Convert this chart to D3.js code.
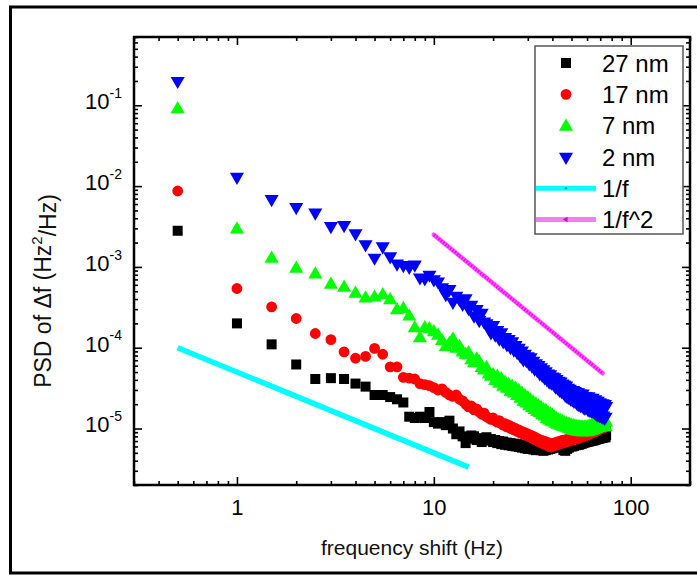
<!DOCTYPE html>
<html>
<head>
<meta charset="utf-8">
<script src="https://cdn.jsdelivr.net/npm/d3@7/dist/d3.min.js"></script>
<style>
  html, body { margin: 0; padding: 0; background: #fff; }
  svg { display: block; font-family: "Liberation Sans", Arial, sans-serif; }
</style>
</head>
<body>
<svg id="chart" width="697" height="576"></svg>
<script>
// Frequency grid (Hz)
const frequency = [
  0.5, 1, 1.5, 2, 2.5, 3, 3.5, 4, 4.5, 5,
  5.5, 6, 6.5, 7, 7.5, 8, 8.5, 9, 9.5, 10,
  10.5, 11, 11.5, 12, 12.5, 13, 13.5, 14, 14.5, 15,
  15.5, 16, 16.5, 17, 17.5, 18, 18.5, 19, 19.5, 20,
  20.5, 21, 21.5, 22, 22.5, 23, 23.5, 24, 24.5, 25,
  25.5, 26, 26.5, 27, 27.5, 28, 28.5, 29, 29.5, 30,
  30.5, 31, 31.5, 32, 32.5, 33, 33.5, 34, 34.5, 35,
  35.5, 36, 36.5, 37, 37.5, 38, 38.5, 39, 39.5, 40,
  40.5, 41, 41.5, 42, 42.5, 43, 43.5, 44, 44.5, 45,
  45.5, 46, 46.5, 47, 47.5, 48, 48.5, 49, 49.5, 50,
  50.5, 51, 51.5, 52, 52.5, 53, 53.5, 54, 54.5, 55,
  55.5, 56, 56.5, 57, 57.5, 58, 58.5, 59, 59.5, 60,
  60.5, 61, 61.5, 62, 62.5, 63, 63.5, 64, 64.5, 65,
  65.5, 66, 66.5, 67, 67.5, 68, 68.5, 69, 69.5, 70,
  70.5, 71, 71.5, 72, 72.5, 73, 73.5, 74, 74.5, 75
];

// PSD of the frequency shift, Hz^2/Hz, one array per tip-sample distance
const psd27nm = [
  2.8e-3, 2.0e-4, 1.1e-4, 6.2e-5, 4.1e-5, 4.2e-5, 4.1e-5, 3.6e-5, 3.3e-5, 2.6e-5,
  2.6e-5, 2.45e-5, 2.3e-5, 2.1e-5, 1.4e-5, 1.35e-5, 1.4e-5, 1.35e-5, 1.6e-5, 1.2e-5,
  1.15e-5, 1.2e-5, 1.1e-5, 1.25e-5, 1.0e-5, 8.5e-6, 9.2e-6, 8.0e-6, 6.6e-6, 7.5e-6,
  8.2e-6, 8.0e-6, 7.2e-6, 7.6e-6, 6.8e-6, 7.3e-6, 7.8e-6, 7.1e-6, 7.4e-6, 6.8e-6,
  7.2e-6, 6.6e-6, 7.0e-6, 6.4e-6, 6.9e-6, 6.3e-6, 6.7e-6, 6.2e-6, 6.6e-6, 6.1e-6,
  6.5e-6, 6.0e-6, 6.4e-6, 5.9e-6, 6.3e-6, 5.8e-6, 6.2e-6, 5.7e-6, 6.1e-6, 5.6e-6,
  6.0e-6, 5.6e-6, 6.1e-6, 5.5e-6, 6.0e-6, 5.4e-6, 5.9e-6, 5.5e-6, 6.0e-6, 5.4e-6,
  5.9e-6, 5.3e-6, 5.8e-6, 5.4e-6, 6.0e-6, 5.5e-6, 6.1e-6, 5.6e-6, 6.2e-6, 5.7e-6,
  6.3e-6, 5.8e-6, 6.4e-6, 5.9e-6, 6.5e-6, 6.0e-6, 6.6e-6, 6.1e-6, 6.7e-6, 6.2e-6,
  5.4e-6, 6.3e-6, 5.3e-6, 6.4e-6, 5.6e-6, 6.5e-6, 5.8e-6, 6.6e-6, 6.0e-6, 6.7e-6,
  6.0e-6, 6.8e-6, 6.1e-6, 6.9e-6, 6.2e-6, 7.0e-6, 6.3e-6, 7.0e-6, 6.3e-6, 7.1e-6,
  6.4e-6, 7.2e-6, 6.5e-6, 7.3e-6, 6.6e-6, 7.3e-6, 6.7e-6, 7.4e-6, 6.8e-6, 7.4e-6,
  6.9e-6, 7.5e-6, 6.9e-6, 7.6e-6, 7.0e-6, 7.6e-6, 7.1e-6, 7.7e-6, 7.1e-6, 7.8e-6,
  7.2e-6, 7.9e-6, 7.3e-6, 8.0e-6, 7.4e-6, 8.0e-6, 7.5e-6, 8.1e-6, 7.5e-6, 8.2e-6,
  7.6e-6, 8.2e-6, 7.7e-6, 8.3e-6, 7.7e-6, 8.3e-6, 7.8e-6, 8.4e-6, 7.8e-6, 8.3e-6
];
const psd17nm = [
  8.7e-3, 5.4e-4, 3.2e-4, 2.3e-4, 1.5e-4, 1.26e-4, 8.9e-5, 7.4e-5, 7.8e-5, 9.8e-5,
  8.3e-5, 5.8e-5, 5.8e-5, 4.3e-5, 4.2e-5, 4.1e-5, 3.6e-5, 3.5e-5, 3.4e-5, 3.2e-5,
  3.0e-5, 3.1e-5, 2.8e-5, 2.6e-5, 2.5e-5, 2.6e-5, 2.3e-5, 2.2e-5, 2.0e-5, 1.85e-5,
  1.9e-5, 1.7e-5, 1.75e-5, 1.6e-5, 1.5e-5, 1.55e-5, 1.4e-5, 1.35e-5, 1.3e-5, 1.35e-5,
  1.25e-5, 1.2e-5, 1.25e-5, 1.15e-5, 1.1e-5, 1.15e-5, 1.05e-5, 1.1e-5, 1.0e-5, 1.05e-5,
  9.6e-6, 1.0e-5, 9.2e-6, 9.6e-6, 8.8e-6, 9.2e-6, 8.5e-6, 8.9e-6, 8.2e-6, 8.6e-6,
  7.9e-6, 8.3e-6, 7.6e-6, 8.0e-6, 7.3e-6, 7.7e-6, 7.1e-6, 7.4e-6, 6.8e-6, 7.2e-6,
  6.6e-6, 7.0e-6, 6.4e-6, 6.9e-6, 6.2e-6, 6.7e-6, 6.0e-6, 6.6e-6, 5.9e-6, 6.5e-6,
  6.1e-6, 6.6e-6, 6.2e-6, 6.8e-6, 6.3e-6, 6.9e-6, 6.5e-6, 7.0e-6, 6.6e-6, 7.1e-6,
  6.7e-6, 7.2e-6, 6.8e-6, 7.3e-6, 6.9e-6, 7.4e-6, 7.0e-6, 7.5e-6, 7.1e-6, 7.6e-6,
  7.2e-6, 7.8e-6, 7.3e-6, 7.9e-6, 7.4e-6, 8.0e-6, 7.5e-6, 8.1e-6, 7.6e-6, 8.2e-6,
  7.8e-6, 8.4e-6, 7.9e-6, 8.5e-6, 8.0e-6, 8.6e-6, 8.1e-6, 8.8e-6, 8.3e-6, 8.9e-6,
  8.4e-6, 9.0e-6, 8.5e-6, 9.2e-6, 8.7e-6, 9.3e-6, 8.8e-6, 9.5e-6, 9.0e-6, 9.6e-6,
  9.1e-6, 9.8e-6, 9.2e-6, 1.0e-5, 9.4e-6, 1.02e-5, 9.6e-6, 1.04e-5, 9.8e-6, 1.06e-5,
  1.0e-5, 1.08e-5, 1.0e-5, 1.1e-5, 1.02e-5, 1.1e-5, 1.04e-5, 1.12e-5, 1.05e-5, 1.1e-5
];
const psd7nm = [
  9.2e-2, 3.0e-3, 1.3e-3, 9.8e-4, 8.3e-4, 6.2e-4, 5.7e-4, 4.8e-4, 4.2e-4, 4.3e-4,
  4.6e-4, 4.0e-4, 3.0e-4, 3.1e-4, 2.5e-4, 1.8e-4, 1.35e-4, 1.8e-4, 1.75e-4, 1.6e-4,
  1.45e-4, 1.25e-4, 1.05e-4, 1.15e-4, 1.3e-4, 1.0e-4, 1.05e-4, 9.0e-5, 8.4e-5, 8.8e-5,
  7.2e-5, 6.6e-5, 7.4e-5, 6.8e-5, 5.8e-5, 5.4e-5, 5.8e-5, 4.8e-5, 4.5e-5, 4.7e-5,
  4.0e-5, 4.5e-5, 3.7e-5, 4.2e-5, 3.4e-5, 3.8e-5, 3.2e-5, 3.6e-5, 2.9e-5, 3.4e-5,
  2.8e-5, 3.2e-5, 2.6e-5, 3.0e-5, 2.4e-5, 2.8e-5, 2.2e-5, 2.6e-5, 2.1e-5, 2.45e-5,
  1.95e-5, 2.3e-5, 1.85e-5, 2.15e-5, 1.75e-5, 2.05e-5, 1.65e-5, 1.95e-5, 1.6e-5, 1.85e-5,
  1.5e-5, 1.75e-5, 1.45e-5, 1.7e-5, 1.35e-5, 1.6e-5, 1.3e-5, 1.55e-5, 1.25e-5, 1.5e-5,
  1.22e-5, 1.4e-5, 1.18e-5, 1.35e-5, 1.15e-5, 1.3e-5, 1.12e-5, 1.28e-5, 1.1e-5, 1.24e-5,
  1.08e-5, 1.2e-5, 1.06e-5, 1.18e-5, 1.04e-5, 1.16e-5, 1.02e-5, 1.14e-5, 1.0e-5, 1.12e-5,
  9.8e-6, 1.1e-5, 9.7e-6, 1.09e-5, 9.6e-6, 1.08e-5, 9.5e-6, 1.07e-5, 9.4e-6, 1.06e-5,
  9.4e-6, 1.06e-5, 9.3e-6, 1.05e-5, 9.3e-6, 1.06e-5, 9.4e-6, 1.05e-5, 9.3e-6, 1.06e-5,
  9.4e-6, 1.07e-5, 9.5e-6, 1.09e-5, 9.6e-6, 1.1e-5, 9.7e-6, 1.12e-5, 9.9e-6, 1.14e-5,
  1.0e-5, 1.16e-5, 1.02e-5, 1.18e-5, 1.04e-5, 1.2e-5, 1.05e-5, 1.22e-5, 1.06e-5, 1.2e-5,
  1.07e-5, 1.22e-5, 1.08e-5, 1.25e-5, 1.09e-5, 1.2e-5, 1.07e-5, 1.24e-5, 1.08e-5, 1.22e-5
];
const psd2nm = [
  2.0e-1, 1.3e-2, 6.9e-3, 5.5e-3, 4.7e-3, 3.2e-3, 3.3e-3, 2.6e-3, 1.9e-3, 1.3e-3,
  1.8e-3, 1.35e-3, 1.1e-3, 1.05e-3, 1.0e-3, 1.07e-3, 7.4e-4, 7.2e-4, 8.0e-4, 7.0e-4,
  6.6e-4, 5.6e-4, 4.6e-4, 5.3e-4, 3.7e-4, 4.4e-4, 4.0e-4, 3.5e-4, 4.1e-4, 3.1e-4,
  3.4e-4, 2.5e-4, 3.0e-4, 2.2e-4, 2.7e-4, 2.1e-4, 2.0e-4, 1.75e-4, 1.55e-4, 1.9e-4,
  1.45e-4, 1.65e-4, 1.3e-4, 1.55e-4, 1.2e-4, 1.35e-4, 1.1e-4, 1.28e-4, 1.02e-4, 1.2e-4,
  9.5e-5, 1.08e-4, 8.8e-5, 1.0e-4, 8.0e-5, 9.2e-5, 7.2e-5, 8.4e-5, 7.0e-5, 7.8e-5,
  6.4e-5, 7.6e-5, 6.0e-5, 6.9e-5, 5.5e-5, 6.4e-5, 5.3e-5, 6.1e-5, 4.8e-5, 5.7e-5,
  4.6e-5, 5.4e-5, 4.3e-5, 5.1e-5, 4.1e-5, 4.8e-5, 3.8e-5, 4.7e-5, 3.7e-5, 4.4e-5,
  3.6e-5, 4.3e-5, 3.3e-5, 4.1e-5, 3.2e-5, 3.9e-5, 3.0e-5, 3.8e-5, 2.9e-5, 3.6e-5,
  2.8e-5, 3.5e-5, 2.6e-5, 3.4e-5, 2.5e-5, 3.2e-5, 2.45e-5, 3.1e-5, 2.35e-5, 3.0e-5,
  2.3e-5, 3.0e-5, 2.2e-5, 2.9e-5, 2.2e-5, 2.8e-5, 2.05e-5, 2.8e-5, 2.0e-5, 2.7e-5,
  1.95e-5, 2.6e-5, 1.95e-5, 2.7e-5, 1.85e-5, 2.5e-5, 1.8e-5, 2.5e-5, 1.85e-5, 2.4e-5,
  1.75e-5, 2.5e-5, 1.7e-5, 2.4e-5, 1.7e-5, 2.3e-5, 1.65e-5, 2.4e-5, 1.65e-5, 2.2e-5,
  1.6e-5, 2.3e-5, 1.55e-5, 2.2e-5, 1.5e-5, 2.2e-5, 1.5e-5, 2.1e-5, 1.45e-5, 2.1e-5,
  1.45e-5, 2.0e-5, 1.4e-5, 2.05e-5, 1.45e-5, 1.95e-5, 1.35e-5, 2.0e-5, 1.4e-5, 1.9e-5
];

// Guide lines: endpoints (frequency, PSD)
const guide1f = { f: [0.5, 15], p: [1e-4, 3.33e-6] };
const guide1f2 = { f: [10, 72], p: [2.5e-3, 4.82e-5] };

const seriesNames = ["27 nm", "17 nm", "7 nm", "2 nm"];
const seriesValues = [psd27nm, psd17nm, psd7nm, psd2nm];
const seriesColors = ["#000000", "#ff0000", "#00ff00", "#0000ff"];
const seriesSymbols = ["square", "circle", "triangleUp", "triangleDown"];
const guideNames = ["1/f", "1/f^2"];

const xTickValues = [1, 10, 100];
const yTickExponents = [-1, -2, -3, -4, -5];

const svg = d3.select("#chart");
const W = 697, H = 576;
const plot = { left: 134, right: 690, top: 37, bottom: 485 };
const FONT = "Liberation Sans, Arial, sans-serif";

const x = d3.scaleLog().domain([0.3, 200]).range([plot.left, plot.right]);
const y = d3.scaleLog().domain([2e-6, 0.7]).range([plot.bottom, plot.top]);

// outer border
svg.append("path")
  .attr("d", `M ${W + 5} 7 H 10.5 V 573 H ${W + 5}`)
  .attr("fill", "none").attr("stroke", "#000").attr("stroke-width", 3);

// ---- symbols
const symbolTypes = {
  square: d3.symbolSquare,
  circle: d3.symbolCircle,
  triangleUp: d3.symbolTriangle,
  triangleDown: d3.symbolTriangle
};
const symbolAreas = { square: 100, circle: 92, triangleUp: 86, triangleDown: 86 };
function symbolPath(kind) {
  return d3.symbol().type(symbolTypes[kind]).size(symbolAreas[kind])();
}
function symbolTransform(kind, tx, ty) {
  return kind === "triangleDown"
    ? `translate(${tx},${ty}) rotate(180)`
    : `translate(${tx},${ty + (kind === "triangleUp" ? 1 : 0)})`;
}

// ---- data markers, 27 nm first so the 2 nm set sits on top
const dataLayer = svg.append("g");
seriesValues.forEach((vals, si) => {
  const kind = seriesSymbols[si];
  const pts = frequency.map((f, i) => ({ f, v: vals[i] }));
  dataLayer.append("g").selectAll("path")
    .data(pts)
    .join("path")
    .attr("d", symbolPath(kind))
    .attr("transform", d => symbolTransform(kind, x(d.f), y(d.v)))
    .attr("fill", seriesColors[si]);
});

// ---- guide lines
const lineGen = d3.line().x(d => x(d[0])).y(d => y(d[1]));
svg.append("path")
  .datum(guide1f.f.map((f, i) => [f, guide1f.p[i]]))
  .attr("d", lineGen)
  .attr("stroke", "#00ffff").attr("stroke-width", 5.5).attr("fill", "none");
svg.append("path")
  .datum(guide1f2.f.map((f, i) => [f, guide1f2.p[i]]))
  .attr("d", lineGen)
  .attr("stroke", "#ff55ff").attr("stroke-width", 4.5).attr("fill", "none")
  .attr("stroke-linecap", "round");
svg.append("path")
  .datum(guide1f2.f.map((f, i) => [f, guide1f2.p[i]]))
  .attr("d", lineGen)
  .attr("stroke", "#ff00ff").attr("stroke-width", 3).attr("fill", "none")
  .attr("stroke-dasharray", "1.6 1.4");

// ---- axes (ticks pointing inward on all four sides)
const fmtNone = () => "";
const xMinor = x.ticks().filter(t => !xTickValues.includes(t));
const yMajor = yTickExponents.map(e => Math.pow(10, e));
const yMinor = y.ticks().filter(t => !yMajor.some(m => Math.abs(m - t) / m < 1e-9));

function styleAxis(g) {
  g.select(".domain").remove();
  g.selectAll("line").attr("stroke", "#000").attr("stroke-width", 1.6);
}

// bottom
svg.append("g").attr("transform", `translate(0,${plot.bottom})`)
  .call(d3.axisBottom(x).tickValues(xTickValues).tickSizeInner(-8).tickSizeOuter(0)
    .tickPadding(9).tickFormat(d3.format("d")))
  .call(styleAxis)
  .call(g => g.selectAll("text").attr("font-size", 22).attr("fill", "#000")
    .attr("font-family", FONT).attr("dy", "0.95em"));
svg.append("g").attr("transform", `translate(0,${plot.bottom})`)
  .call(d3.axisBottom(x).tickValues(xMinor).tickSizeInner(-4).tickSizeOuter(0).tickFormat(fmtNone))
  .call(styleAxis);
// top
svg.append("g").attr("transform", `translate(0,${plot.top})`)
  .call(d3.axisTop(x).tickValues(xTickValues).tickSizeInner(-8).tickSizeOuter(0).tickFormat(fmtNone))
  .call(styleAxis);
svg.append("g").attr("transform", `translate(0,${plot.top})`)
  .call(d3.axisTop(x).tickValues(xMinor).tickSizeInner(-4).tickSizeOuter(0).tickFormat(fmtNone))
  .call(styleAxis);
// left
const leftMajor = svg.append("g").attr("transform", `translate(${plot.left},0)`)
  .call(d3.axisLeft(y).tickValues(yMajor).tickSizeInner(-8).tickSizeOuter(0).tickFormat(fmtNone))
  .call(styleAxis);
svg.append("g").attr("transform", `translate(${plot.left},0)`)
  .call(d3.axisLeft(y).tickValues(yMinor).tickSizeInner(-4).tickSizeOuter(0).tickFormat(fmtNone))
  .call(styleAxis);
// right
svg.append("g").attr("transform", `translate(${plot.right},0)`)
  .call(d3.axisRight(y).tickValues(yMajor).tickSizeInner(-8).tickSizeOuter(0).tickFormat(fmtNone))
  .call(styleAxis);
svg.append("g").attr("transform", `translate(${plot.right},0)`)
  .call(d3.axisRight(y).tickValues(yMinor).tickSizeInner(-4).tickSizeOuter(0).tickFormat(fmtNone))
  .call(styleAxis);

// power-of-ten labels on the left axis
leftMajor.selectAll(".tick").each(function (d) {
  const t = d3.select(this).select("text")
    .attr("x", -12).attr("dy", "0.34em")
    .attr("text-anchor", "end").attr("fill", "#000")
    .attr("font-family", FONT);
  t.text(null);
  t.append("tspan").attr("font-size", 22).text("10");
  t.append("tspan").attr("font-size", 14).attr("dy", "-0.8em")
    .text(String(Math.round(Math.log10(d))));
});

// plot frame
svg.append("rect")
  .attr("x", plot.left).attr("y", plot.top)
  .attr("width", plot.right - plot.left).attr("height", plot.bottom - plot.top)
  .attr("fill", "none").attr("stroke", "#000").attr("stroke-width", 2.5);

// ---- axis titles
svg.append("text")
  .attr("x", (plot.left + plot.right) / 2).attr("y", 555)
  .attr("text-anchor", "middle").attr("font-size", 21).attr("fill", "#111")
  .text("frequency shift (Hz)");

const yTitle = svg.append("text")
  .attr("transform", `translate(51,${(plot.top + plot.bottom) / 2 + 30}) rotate(-90)`)
  .attr("text-anchor", "middle").attr("font-size", 23).attr("fill", "#111");
yTitle.append("tspan").text("PSD of \u0394f (Hz");
yTitle.append("tspan").attr("font-size", 15).attr("dy", "-0.6em").text("2");
yTitle.append("tspan").attr("dy", "0.6em").text("/Hz)");

// ---- legend
const lg = { left: 535, top: 46, right: 683, bottom: 234, rowH: 31.3, firstRow: 63, symX: 566, textX: 602 };
const legend = svg.append("g");
legend.append("rect")
  .attr("x", lg.left).attr("y", lg.top)
  .attr("width", lg.right - lg.left).attr("height", lg.bottom - lg.top)
  .attr("fill", "#fff").attr("stroke", "#555").attr("stroke-width", 1.5);

seriesNames.forEach((name, i) => {
  const cy = lg.firstRow + i * lg.rowH;
  const kind = seriesSymbols[i];
  legend.append("path")
    .attr("d", symbolPath(kind))
    .attr("transform", symbolTransform(kind, lg.symX, cy))
    .attr("fill", seriesColors[i]);
  legend.append("text")
    .attr("x", lg.textX).attr("y", cy).attr("dy", "0.36em")
    .attr("font-size", 24).attr("fill", "#000").text(name);
});

const guideColors = ["#00ffff", "#f27ef2"];
guideNames.forEach((name, j) => {
  const cy = lg.firstRow + (4 + j) * lg.rowH;
  legend.append("line")
    .attr("x1", lg.left + 1).attr("x2", 596).attr("y1", cy).attr("y2", cy)
    .attr("stroke", guideColors[j]).attr("stroke-width", 5);
  if (j === 0) {
    legend.append("circle").attr("cx", lg.symX).attr("cy", cy).attr("r", 1.3).attr("fill", "#009aa0");
  } else {
    legend.append("path")
      .attr("d", d3.symbol().type(d3.symbolTriangle).size(14)())
      .attr("transform", `translate(${lg.symX},${cy}) rotate(-90)`)
      .attr("fill", "#e000e0");
  }
  legend.append("text")
    .attr("x", lg.textX).attr("y", cy).attr("dy", "0.36em")
    .attr("font-size", 24).attr("fill", "#000").text(name);
});
</script>
</body>
</html>
